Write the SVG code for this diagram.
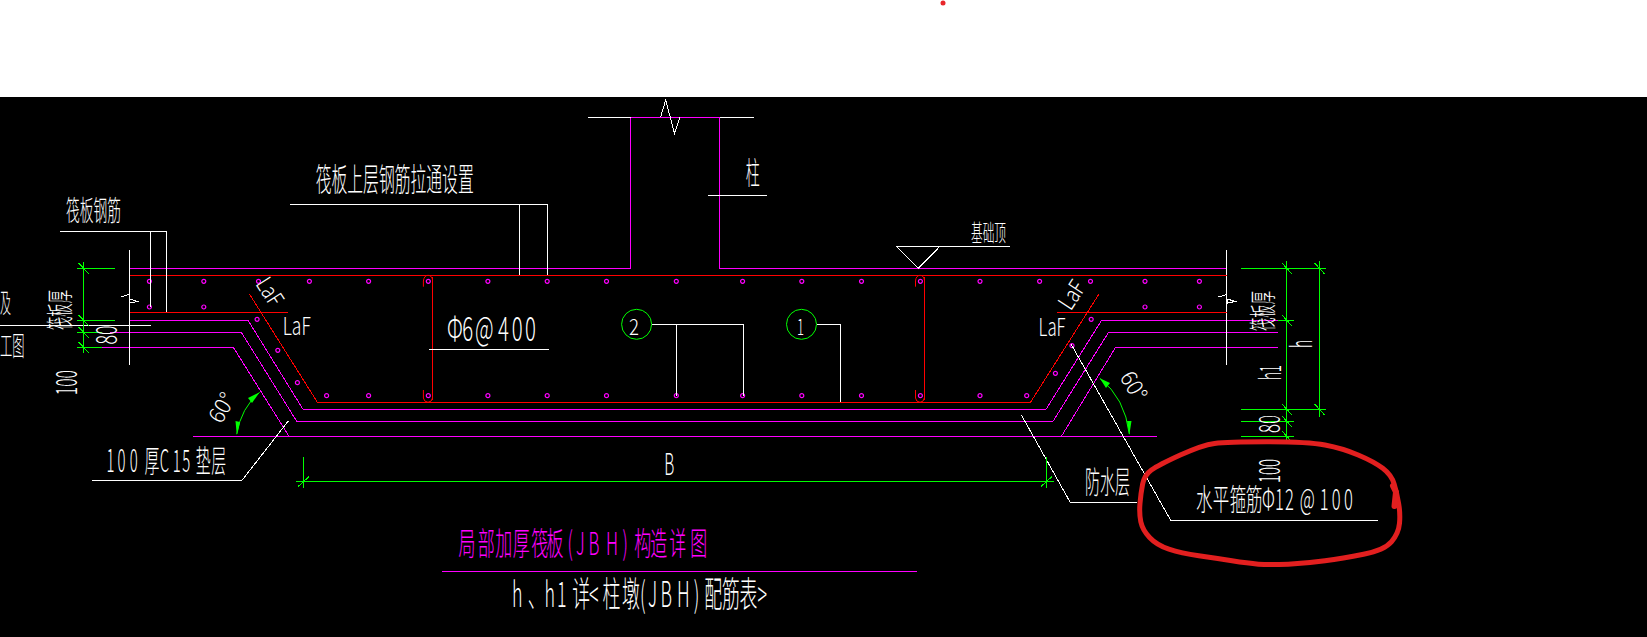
<svg xmlns="http://www.w3.org/2000/svg" xmlns:xlink="http://www.w3.org/1999/xlink" width="1647" height="637" viewBox="0 0 1647 637">
<style>
.w,.m,.r,.g{fill:none;stroke-width:1;shape-rendering:crispEdges}
.w{stroke:#fff}.m{stroke:#f0f}.r{stroke:#f00}.g{stroke:#0f0}
.c{shape-rendering:auto}
text{font-family:"Noto Sans CJK SC","Liberation Sans",sans-serif;font-weight:300;fill:#fff}
.mt{fill:#f0f}
.a{text-anchor:middle}
</style>
<defs>
<path id="tk" d="M-5-5.5L5 5.5" class="g"/>
<circle id="d" r="2" fill="none" stroke="#f0f" stroke-width="1.2"/>
</defs>
<rect width="1647" height="637" fill="#fff"/>
<rect y="97" width="1647" height="540" fill="#000"/>
<circle cx="943" cy="3" r="2.5" fill="#e8262a"/>

<g id="structure">
<path class="m" d="M129.5 320.3V268.3H630.7V117.3H719.8V268.3H1226.8V320.3"/>
<path class="m" d="M129.5 320.3H248L303 409.3H1046L1101.6 320.3H1277.5"/>
<path class="m" d="M110 332.3H241.3L296.7 421.3H1053L1108.6 332.3H1277.5"/>
<path class="m" d="M101.7 347.3H233.3L289 436.3"/>
<path class="m" d="M193 436.3H1156.6"/>
<path class="m" d="M1061.4 436.3L1115.6 347.3H1277.5"/>
<path class="w" d="M129.5 250V365M1226.8 250V365"/>
<path class="w" d="M587.9 117.3H630.7M719.8 117.3H754"/>
<path class="w" d="M660.5 117.3L665.7 100L674.5 133.3L679.8 117.3"/>
<path class="w" d="M121 297L129 294.5L130 303L137.5 301.5L130 299"/>
<path class="w" d="M1218.5 297L1226.5 294.5L1227.5 303L1235 301.5L1227.5 299"/>
</g>

<g id="rebar">
<path class="r" d="M129.5 275.3H1226.8"/>
<path class="r" d="M129.5 312.3H287.6M1056.8 312.3H1226.8"/>
<path class="r" d="M249.4 294L317.4 402.3H1030.5L1099 294"/>
<path class="r" d="M432.5 277V400"/>
<path class="r c" d="M423.4 286.7V281Q424 275.5 428 275.3Q432 275.5 432.5 280M423.4 390V398Q424 402 428 402.3Q432 402 432.5 398"/>
<path class="r" d="M924.3 277V400"/>
<path class="r c" d="M915.5 286.7V281Q916 275.5 920 275.3Q924 275.5 924.3 280M915.5 390V398Q916 402 920 402.3Q924 402 924.3 398"/>
<g id="bars">
<use xlink:href="#d" x="149.4" y="281.3"/><use xlink:href="#d" x="203.8" y="281.3"/><use xlink:href="#d" x="258.5" y="281.3"/><use xlink:href="#d" x="309.4" y="281.3"/><use xlink:href="#d" x="368.6" y="281.3"/><use xlink:href="#d" x="428.3" y="281.3"/><use xlink:href="#d" x="487.9" y="281.3"/><use xlink:href="#d" x="547.2" y="281.3"/><use xlink:href="#d" x="606.5" y="281.3"/><use xlink:href="#d" x="676.3" y="281.3"/><use xlink:href="#d" x="742.6" y="281.3"/><use xlink:href="#d" x="801.8" y="281.3"/><use xlink:href="#d" x="861.5" y="281.3"/><use xlink:href="#d" x="920.4" y="281.3"/><use xlink:href="#d" x="980" y="281.3"/><use xlink:href="#d" x="1039.6" y="281.3"/><use xlink:href="#d" x="1090.5" y="281.3"/><use xlink:href="#d" x="1145" y="281.3"/><use xlink:href="#d" x="1199.4" y="281.3"/>
<use xlink:href="#d" x="149.4" y="307"/><use xlink:href="#d" x="203.8" y="307"/><use xlink:href="#d" x="1145" y="307"/><use xlink:href="#d" x="1199.4" y="307"/>
<use xlink:href="#d" x="257.1" y="319.3"/><use xlink:href="#d" x="277.8" y="350.3"/><use xlink:href="#d" x="297.4" y="382.7"/><use xlink:href="#d" x="1091.2" y="319.3"/><use xlink:href="#d" x="1072" y="345.7"/><use xlink:href="#d" x="1055.4" y="373.3"/>
<use xlink:href="#d" x="326.6" y="395.7"/><use xlink:href="#d" x="368.6" y="395.7"/><use xlink:href="#d" x="428.3" y="395.7"/><use xlink:href="#d" x="487.9" y="395.7"/><use xlink:href="#d" x="547.2" y="395.7"/><use xlink:href="#d" x="606.5" y="395.7"/><use xlink:href="#d" x="676.3" y="395.7"/><use xlink:href="#d" x="742.6" y="395.7"/><use xlink:href="#d" x="801.8" y="395.7"/><use xlink:href="#d" x="861.5" y="395.7"/><use xlink:href="#d" x="920.4" y="395.7"/><use xlink:href="#d" x="980" y="395.7"/><use xlink:href="#d" x="1026.7" y="395.7"/>
</g>
</g>

<g id="connectors">
<path class="w" d="M0 325.3H150.8"/>
<path class="w" d="M60 231.3H166.3V312.3M150.5 231.3V306.7"/>
<path class="w" d="M290 204.3H547V275.3M519.5 204.3V275.3"/>
<path class="w" d="M707.8 195.3H767"/>
<path class="w" d="M896.2 246.3H1009.8M896.2 246.3L918.3 268.3L940 246.3"/>
<path class="w" d="M429 349.3H549"/>
<path class="w" d="M652 324.3H743.3V395.7M676.3 324.3V395.7"/>
<path class="w" d="M816.6 324.3H840.4V402.3"/>
<path class="w" d="M91.9 480.3H242L288.3 421"/>
<path class="w" d="M1021.4 415L1070.2 502.3H1136.6"/>
<path class="w" d="M1071 344L1170.7 520.3H1377.6"/>
<path class="m" d="M442 571.3H916.9"/>
</g>

<g id="callout-circles">
<circle cx="636.6" cy="324.3" r="15" fill="none" stroke="#0f0"/>
<circle cx="801.5" cy="324.3" r="15" fill="none" stroke="#0f0"/>
</g>

<g id="dimensions">
<path class="g" d="M83.5 261.7V353.3M76.5 268.3H115M76.5 320.3H115M76.5 332.3H102M76.5 347.3H102"/>
<use xlink:href="#tk" x="83.5" y="268.3"/><use xlink:href="#tk" x="83.5" y="320.3"/><use xlink:href="#tk" x="83.5" y="332.3"/><use xlink:href="#tk" x="83.5" y="347.3"/>
<path class="g" d="M1286.8 261V441M1319.4 261V416.7M1241 268.3H1326M1277.5 320.3H1294M1241 409.3H1326M1241 421.3H1294M1241 436.3H1294"/>
<use xlink:href="#tk" x="1286.8" y="268.3"/><use xlink:href="#tk" x="1319.4" y="268.3"/><use xlink:href="#tk" x="1286.8" y="320.3"/><use xlink:href="#tk" x="1286.8" y="409.3"/><use xlink:href="#tk" x="1319.4" y="409.3"/><use xlink:href="#tk" x="1286.8" y="421.3"/><use xlink:href="#tk" x="1286.8" y="436.3"/>
<path class="g" d="M296.4 481.7H1054M303.4 457.3V488.3M1046.3 457.3V488.3"/>
<use xlink:href="#tk" x="303.4" y="481.7" transform="rotate(90 303.4 481.7)"/><use xlink:href="#tk" x="1046.3" y="481.7" transform="rotate(90 1046.3 481.7)"/>
<path class="g c" d="M259.6 392.3Q241 408 236.8 434"/>
<path d="M259.6 392.3L248 398L252 403ZM236.8 435L235.5 421L240 422Z" fill="#0f0"/>
<path class="g c" d="M1099.8 378.3Q1125 398 1129.3 434"/>
<path d="M1099.8 378.3L1110 383L1106 388ZM1129.3 435L1127 421L1131.5 421Z" fill="#0f0"/>
</g>

<g id="labels">
<text x="66" y="221" font-size="28" textLength="55" lengthAdjust="spacingAndGlyphs">筏板钢筋</text>
<text x="315.7" y="191" font-size="32" textLength="158" lengthAdjust="spacingAndGlyphs">筏板上层钢筋拉通设置</text>
<text x="745.7" y="184" font-size="31" textLength="14" lengthAdjust="spacingAndGlyphs">柱</text>
<text x="971" y="241" font-size="23" textLength="35" lengthAdjust="spacingAndGlyphs">基础顶</text>
<text transform="translate(107 472) scale(.48 1)" x="-1 21.9 47.5 78 110 137 157 185 217" font-size="31">100厚C15垫层</text>
<text transform="translate(447 341) scale(.6 1)" x="0 25.5 46.7 85 108 130" font-size="34">Φ6@400</text>
<text x="282.7" y="335" font-size="25" textLength="28" lengthAdjust="spacingAndGlyphs">LaF</text>
<text x="1038.6" y="336" font-size="25" textLength="27" lengthAdjust="spacingAndGlyphs">LaF</text>
<text transform="translate(269.7 291.7) rotate(57)" y="8" class="a" font-size="23" textLength="29" lengthAdjust="spacingAndGlyphs">LaF</text>
<text transform="translate(1072 295) rotate(-57)" y="8" class="a" font-size="23" textLength="29" lengthAdjust="spacingAndGlyphs">LaF</text>
<text transform="translate(221.7 407.7) rotate(-60)" y="8" class="a" font-size="22" textLength="30" lengthAdjust="spacingAndGlyphs">60°</text>
<text transform="translate(1133.8 386) rotate(60)" y="8" class="a" font-size="22" textLength="30" lengthAdjust="spacingAndGlyphs">60°</text>
<text x="669.3" y="475" class="a" font-size="30" textLength="10" lengthAdjust="spacingAndGlyphs">B</text>
<text transform="translate(458.4 554.5) scale(.53 1)" x="0 36.4 69.6 102.6 137.7 166 205.8 222 245.7 278.5 309.8 331.7 362 398 437.5" class="mt" font-size="32">局部加厚筏板(JBH)构造详图</text>
<text transform="translate(512 607) scale(.51 1)" x="0 31 63.5 88 118 151 177.6 215.7 251 266.7 291 323.5 356.5 377 411.8 445.9 481.6" font-size="35">h、h1详&lt;柱墩(JBH)配筋表&gt;</text>
<text x="1085" y="492.5" font-size="31" textLength="45" lengthAdjust="spacingAndGlyphs">防水层</text>
<text transform="translate(1196 510) scale(.55 1)" x="0 30.5 61.3 91 120 143.6 162 188.7 225 247 269" font-size="30">水平箍筋Φ12@100</text>
<text x="634" y="335" class="a" font-size="22" textLength="10" lengthAdjust="spacingAndGlyphs">2</text>
<text x="800.4" y="335" class="a" font-size="22" textLength="7" lengthAdjust="spacingAndGlyphs">1</text>
<text x="0" y="313" font-size="27" textLength="11" lengthAdjust="spacingAndGlyphs">及</text>
<text x="0" y="356" font-size="27" textLength="24.5" lengthAdjust="spacingAndGlyphs">工图</text>
<text transform="translate(59.5 310) rotate(-90)" y="10" class="a" font-size="27" textLength="40" lengthAdjust="spacingAndGlyphs">筏板厚</text>
<text transform="translate(1262.7 311) rotate(-90)" y="10" class="a" font-size="27" textLength="40" lengthAdjust="spacingAndGlyphs">筏板厚</text>
<text transform="translate(106.5 335) rotate(-90)" y="10.5" class="a" font-size="29" textLength="19" lengthAdjust="spacingAndGlyphs">80</text>
<text transform="translate(66 382.7) rotate(-90)" y="10.5" class="a" font-size="29" textLength="25" lengthAdjust="spacingAndGlyphs">100</text>
<text transform="translate(1301.5 344) rotate(-90)" y="10.5" class="a" font-size="29" textLength="8" lengthAdjust="spacingAndGlyphs">h</text>
<text transform="translate(1270 372.5) rotate(-90)" y="10.5" class="a" font-size="29" textLength="15" lengthAdjust="spacingAndGlyphs">h1</text>
<text transform="translate(1269 424) rotate(-90)" y="10.5" class="a" font-size="29" textLength="18" lengthAdjust="spacingAndGlyphs">80</text>
<text transform="translate(1269 471) rotate(-90)" y="10.5" class="a" font-size="29" textLength="24" lengthAdjust="spacingAndGlyphs">100</text>
</g>

<g id="red-markup" fill="none" stroke="#e21f1f" stroke-linecap="round" stroke-linejoin="round">
<path stroke-width="5" d="M1151.4 470Q1158.4 465 1180.3 455Q1202.2 445 1214.5 443.4Q1226.8 441.7 1267 441.7Q1307.5 441.7 1325 445Q1342.5 448.3 1358.2 455Q1374 461.7 1382.8 468.3Q1391.6 475 1394.2 484.2Q1396.9 493.3 1398.6 503.3Q1400.4 513.3 1399.5 523.3Q1398.6 533.3 1391.6 541.6Q1384.6 550 1363.5 554.2Q1342.5 558.3 1325 560.8Q1307.5 563.3 1288.2 564.2Q1268.9 565 1258.4 564.2Q1247.8 563.3 1232 560.8Q1216.3 558.3 1198.8 555.8Q1181.2 553.3 1168.9 549.2Q1156.6 545 1149.6 537.5Q1142.6 530 1140.8 521.7Q1139.1 513.3 1140 503.3Q1140.8 493.3 1142.6 484.2Q1144.4 475 1151.4 470Z"/>
<path stroke-width="6" d="M1393 486L1396 492L1394.5 506"/>
</g>
</svg>
